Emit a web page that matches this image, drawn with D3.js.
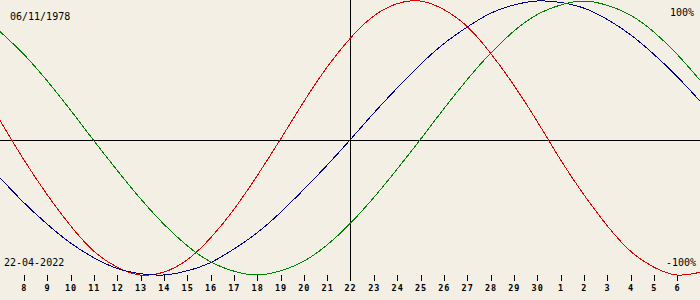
<!DOCTYPE html>
<html lang="en">
<head>
    <meta charset="UTF-8">
    <title>Biorhythm</title>
    <script src="https://d3js.org/d3.v7.min.js"></script>
    <style>
        body { margin: 0; background: #f3efe4; }
        svg { display: block; }
        .label { font-family: "DejaVu Sans Mono", monospace; font-size: 10px; fill: #000; }
        .tick text { font-family: "DejaVu Sans Mono", monospace; font-size: 8.5px; font-weight: bold; fill: #000; }
    </style>
</head>
<body>
    <div id="chart"></div>
    <script>
        // Day-of-month labels, 7 April to 7 May 2022 (centre = 22)
        const dayLabels = [7, 8, 9, 10, 11, 12, 13, 14, 15, 16, 17, 18, 19, 20, 21, 22,
                           23, 24, 25, 26, 27, 28, 29, 30, 1, 2, 3, 4, 5, 6, 7];

        // Cycle values (-1 .. 1), one per day
        const physical = [0.14, -0.14, -0.40, -0.63, -0.82, -0.94, -1.00, -0.98, -0.89, -0.73, -0.52,
                          -0.27, 0.00, 0.27, 0.52, 0.73, 0.89, 0.98, 1.00, 0.94, 0.82, 0.63,
                          0.40, 0.14, -0.14, -0.40, -0.63, -0.82, -0.94, -1.00, -0.98];
        const emotional = [0.78, 0.62, 0.43, 0.22, 0.00, -0.22, -0.43, -0.62, -0.78, -0.90, -0.97,
                           -1.00, -0.97, -0.90, -0.78, -0.62, -0.43, -0.22, 0.00, 0.22, 0.43, 0.62,
                           0.78, 0.90, 0.97, 1.00, 0.97, 0.90, 0.78, 0.62, 0.43];
        const intellectual = [-0.28, -0.46, -0.62, -0.76, -0.87, -0.95, -0.99, -1.00, -0.97, -0.91, -0.81,
                              -0.69, -0.54, -0.37, -0.19, 0.00, 0.19, 0.37, 0.54, 0.69, 0.81, 0.91,
                              0.97, 1.00, 0.99, 0.95, 0.87, 0.76, 0.62, 0.46, 0.28];

        const birthDate = "06/11/1978";
        const viewDate = "22-04-2022";
        const centerIndex = 15;

        const width = 700, height = 300;

        const svg = d3.select("#chart").append("svg")
            .attr("width", width)
            .attr("height", height);

        svg.append("rect")
            .attr("width", width)
            .attr("height", height)
            .attr("fill", "#f3efe4");

        const x = d3.scaleLinear().domain([0, dayLabels.length - 1]).range([0, width]);
        const y = d3.scaleLinear().domain([-1, 0, 1]).range([275, 140, 1]);

        // Axis ticks (skip both edges and the centre, which gets a full line)
        const tickIdx = d3.range(1, dayLabels.length - 1).filter(i => i !== centerIndex);
        const axis = d3.axisBottom(x)
            .tickValues(tickIdx)
            .tickSize(6)
            .tickPadding(4)
            .tickFormat(i => dayLabels[i]);

        const axisG = svg.append("g")
            .attr("transform", "translate(0.5, 275)")
            .call(axis);
        axisG.select(".domain").remove();
        axisG.selectAll("line").attr("stroke", "#000").attr("shape-rendering", "crispEdges");
        axisG.selectAll("text").attr("letter-spacing", "1px");

        // centre label sits under the full vertical line
        svg.append("text")
            .attr("x", x(centerIndex) + 0.5)
            .attr("y", 291)
            .attr("text-anchor", "middle")
            .attr("font-family", "DejaVu Sans Mono, monospace")
            .attr("font-size", "8.5px")
            .attr("font-weight", "bold")
            .attr("letter-spacing", "1px")
            .text(dayLabels[centerIndex]);

        // Cross hair
        svg.append("line")
            .attr("x1", 0).attr("x2", width)
            .attr("y1", y(0) + 0.5).attr("y2", y(0) + 0.5)
            .attr("stroke", "#000")
            .attr("shape-rendering", "crispEdges");
        svg.append("line")
            .attr("x1", x(centerIndex) + 0.5).attr("x2", x(centerIndex) + 0.5)
            .attr("y1", 0).attr("y2", 281)
            .attr("stroke", "#000")
            .attr("shape-rendering", "crispEdges");

        // Curves
        const line = d3.line()
            .x((d, i) => x(i))
            .y(d => y(d))
            .curve(d3.curveNatural);

        const series = [
            { values: physical, color: "#e00000" },
            { values: intellectual, color: "#000090" },
            { values: emotional, color: "#008000" }
        ];

        series.forEach(s => {
            svg.append("path")
                .datum(s.values)
                .attr("fill", "none")
                .attr("stroke", s.color)
                .attr("stroke-width", 1)
                .attr("shape-rendering", "crispEdges")
                .attr("d", line);
        });

        // Corner labels
        svg.append("text").attr("class", "label").attr("x", 10).attr("y", 20).text(birthDate);
        svg.append("text").attr("class", "label").attr("x", 4).attr("y", 266).text(viewDate);
        svg.append("text").attr("class", "label").attr("x", 694).attr("y", 16)
            .attr("text-anchor", "end").text("100%");
        svg.append("text").attr("class", "label").attr("x", 696).attr("y", 266)
            .attr("text-anchor", "end").text("-100%");
    </script>
</body>
</html>
